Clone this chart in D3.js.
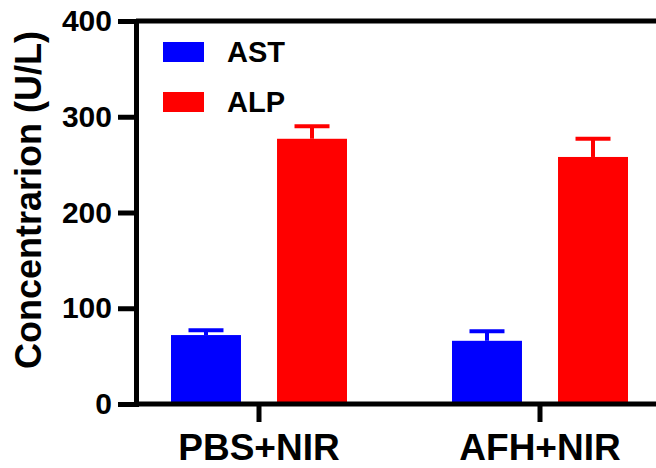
<!DOCTYPE html>
<html>
<head>
<meta charset="utf-8">
<script src="https://cdn.jsdelivr.net/npm/d3@7"></script>
<style>
  body { margin: 0; background: #fff; }
  svg { display: block; font-family: "Liberation Sans", Arial, sans-serif; font-weight: bold; }
</style>
</head>
<body>
<div id="chart"></div>
<script>
var groups = ["PBS+NIR", "AFH+NIR"];
var series = ["AST", "ALP"];
var colors = ["#0000ff", "#ff0000"];
var astMean = [72, 66];
var astErr = [5, 10];
var alpMean = [277, 258];
var alpErr = [13, 19];
var yTicks = [0, 100, 200, 300, 400];

(function(){
	var width = 656,
	height = 468;

	var svg = d3.select("#chart")
		.append("svg")
		.attr("width", width)
		.attr("height", height);

	var axisX = 136, right = 656;

	var y = d3.scaleLinear()
		.domain([0, 400])
		.range([404, 21]);

	var x0 = d3.scaleBand()
		.domain(groups)
		.range([118.5, 680.5]);

	var x1 = d3.scaleBand()
		.domain(series)
		.range([-88, 88])
		.paddingInner(0.34);

	var rows = [];
	groups.forEach(function(g, i){
		rows.push({group: g, key: "AST", value: astMean[i], err: astErr[i], color: colors[0]});
		rows.push({group: g, key: "ALP", value: alpMean[i], err: alpErr[i], color: colors[1]});
	});

	// bars
	svg.selectAll(".bar")
		.data(rows)
		.enter().append("rect")
		.attr("class", "bar")
		.attr("x", function(d){ return x0(d.group) + x0.bandwidth()/2 + x1(d.key); })
		.attr("width", x1.bandwidth())
		.attr("y", function(d){ return y(d.value); })
		.attr("height", function(d){ return y(0) - y(d.value); })
		.attr("fill", function(d){ return d.color; });

	// error bars (upper only)
	var eb = svg.selectAll(".err")
		.data(rows)
		.enter().append("g")
		.attr("class", "err")
		.attr("transform", function(d){
			return "translate(" + (x0(d.group) + x0.bandwidth()/2 + x1(d.key) + x1.bandwidth()/2) + ",0)";
		})
		.style("stroke", function(d){ return d.color; })
		.style("stroke-width", 4);
	eb.append("line")
		.attr("x1", 0).attr("x2", 0)
		.attr("y1", function(d){ return y(d.value); })
		.attr("y2", function(d){ return y(d.value + d.err); });
	eb.append("line")
		.attr("x1", -x1.bandwidth()/4).attr("x2", x1.bandwidth()/4)
		.attr("y1", function(d){ return y(d.value + d.err); })
		.attr("y2", function(d){ return y(d.value + d.err); });

	// frame lines: x axis baseline and top line
	svg.append("line")
		.attr("x1", axisX).attr("x2", right)
		.attr("y1", y(0)).attr("y2", y(0))
		.style("stroke", "#000").style("stroke-width", 5);
	svg.append("line")
		.attr("x1", axisX).attr("x2", right)
		.attr("y1", y(400)).attr("y2", y(400))
		.style("stroke", "#000").style("stroke-width", 5);

	// y axis
	var gy = svg.append("g")
		.attr("transform", "translate(" + axisX + ",0)")
		.call(d3.axisLeft(y).tickValues(yTicks).tickSize(18).tickSizeOuter(0).tickPadding(6));
	gy.selectAll("path, line").style("stroke", "#000").style("stroke-width", 5);
	gy.select(".domain").style("stroke-linecap", "square");
	gy.selectAll("text")
		.style("font-size", "30px")
		.style("font-family", "'Liberation Sans', Arial, sans-serif")
		.style("font-weight", "bold")
		.attr("fill", "#000");

	// x axis ticks and labels
	var gx = svg.append("g")
		.attr("transform", "translate(0," + y(0) + ")")
		.call(d3.axisBottom(x0).tickSize(18).tickSizeOuter(0).tickPadding(12));
	gx.select(".domain").remove();
	gx.selectAll("line").style("stroke", "#000").style("stroke-width", 5);
	gx.selectAll("text")
		.style("font-size", "37px")
		.style("font-family", "'Liberation Sans', Arial, sans-serif")
		.style("font-weight", "bold")
		.attr("fill", "#000");

	// y title
	svg.append("text")
		.attr("transform", "translate(41,200) rotate(-90)")
		.attr("text-anchor", "middle")
		.style("font-size", "36px")
		.attr("fill", "#000")
		.text("Concentrarion (U/L)");

	// legend
	var leg = svg.selectAll(".legend")
		.data(series)
		.enter().append("g")
		.attr("class", "legend")
		.attr("transform", function(d, i){ return "translate(163," + (42 + i*50) + ")"; });
	leg.append("rect")
		.attr("width", 41).attr("height", 20)
		.attr("fill", function(d, i){ return colors[i]; });
	leg.append("text")
		.attr("x", 64).attr("y", 20)
		.style("font-size", "29px")
		.attr("fill", "#000")
		.text(function(d){ return d; });
})();
</script>
</body>
</html>
